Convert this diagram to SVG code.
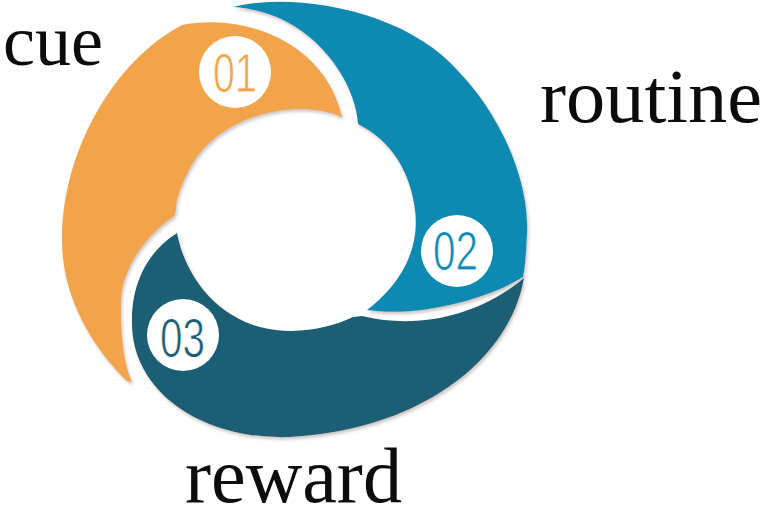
<svg xmlns="http://www.w3.org/2000/svg" width="768" height="527" viewBox="0 0 768 527">
<defs>
<filter id="sh" x="-10%" y="-10%" width="120%" height="120%">
<feDropShadow dx="1.5" dy="2.5" stdDeviation="1.5" flood-color="#c9c2c0" flood-opacity="0.9"/>
</filter>
<style>
.seg{filter:url(#sh)}
.badge{fill:#ffffff}
.num{font-family:"Liberation Sans","Noto Sans",sans-serif;font-size:56px;stroke:#ffffff;stroke-width:0.9}
.lbl{font-family:"Liberation Serif","DejaVu Serif",serif;fill:#0d0b0b}
</style>
</defs>
<rect width="768" height="527" fill="#ffffff"/>
<g id="connectors"></g>
<g id="cue-segment">
<path class="seg" fill="#f1a449" d="M182,25 C242,13 324,40 342,117 C300,98 220,112 190,168 C181,185 176,198 176,210 L174,216 C150,232 122,265 121,300 C120,335 124,365 132,382 L127,381 C95,350 62,300 62,240 C62,150 115,60 182,25 Z"/>
<circle class="badge" cx="235" cy="72" r="36"/>
<text class="num" x="213" y="92" textLength="44" lengthAdjust="spacingAndGlyphs" fill="#f1a449">01</text>
</g>
<g id="routine-segment">
<path class="seg" fill="#0f8ab2" d="M233,7 C290,-8 405,8 460,73 C500,115 530,180 527,235 C526,255 525,268 523,277 C490,298 420,318 367,310 C400,285 420,250 415,210 C410,170 390,140 358,124 C356,90 330,45 287,22 C270,13 250,8 233,7 Z"/>
<circle class="badge" cx="457" cy="251" r="36"/>
<text class="num" x="433" y="270" textLength="45" lengthAdjust="spacingAndGlyphs" fill="#0f8ab2">02</text>
</g>
<g id="reward-segment">
<path class="seg" fill="#1d5e75" d="M177,233 C185,275 215,315 260,327 C295,336 330,328 353,317 L362,316 C420,330 480,315 524,278 C510,360 420,430 290,437 C200,440 130,390 132,320 C132,280 150,250 177,233 Z"/>
<circle class="badge" cx="183" cy="335" r="36"/>
<text class="num" x="160" y="357" textLength="45" lengthAdjust="spacingAndGlyphs" fill="#1d5e75">03</text>
</g>
<g id="labels">
<text class="lbl" x="3" y="65" font-size="71" textLength="100" lengthAdjust="spacingAndGlyphs">cue</text>
<text class="lbl" x="540" y="122" font-size="76" textLength="222" lengthAdjust="spacingAndGlyphs">routine</text>
<text class="lbl" x="185" y="502" font-size="78" textLength="217" lengthAdjust="spacingAndGlyphs">reward</text>
</g>
</svg>
